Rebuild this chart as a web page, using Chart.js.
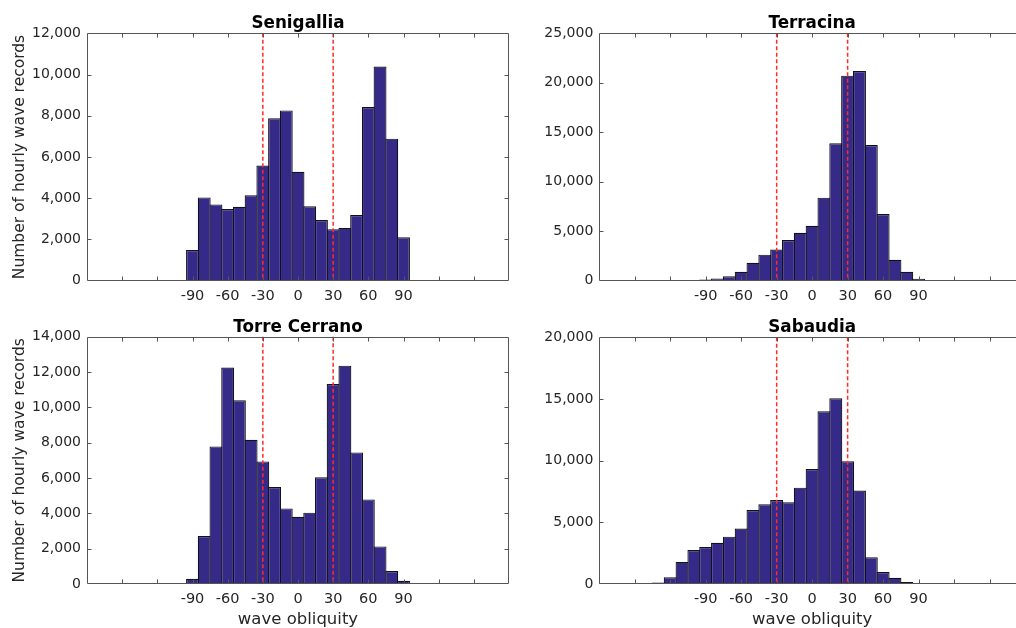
<!DOCTYPE html>
<html><head><meta charset="utf-8">
<script src="https://cdn.jsdelivr.net/npm/chart.js@4.4.0/dist/chart.umd.min.js"></script>
<style>
html,body{margin:0;padding:0;background:#fff;overflow:hidden;width:1016px;height:628px;}
canvas{position:absolute;}
</style></head><body>
<canvas id="cTL"></canvas><canvas id="cTR"></canvas><canvas id="cBL"></canvas><canvas id="cBR"></canvas>
<script>
// ---- data ----
const bins = [-180,-170,-160,-150,-140,-130,-120,-110,-100,-90,-80,-70,-60,-50,-40,-30,-20,-10,0,10,20,30,40,50,60,70,80,90];
const senigallia   = [0,0,0,0,0,0,0,0,0,1490,4040,3700,3480,3590,4150,5590,7880,8260,5280,3610,2940,2500,2560,3190,8420,10390,6890,2110];
const terracina    = [0,40,60,40,40,50,50,60,80,120,220,440,910,1820,2630,3150,4110,4850,5560,8390,13880,20720,21190,13710,6740,2120,910,200];
const torreCerrano = [0,0,0,0,0,0,0,0,0,300,2720,7790,12250,10400,8170,6940,5490,4280,3810,4040,6040,11320,12360,7450,4790,2130,740,180];
const sabaudia     = [90,30,30,40,40,120,540,1790,2760,3000,3350,3840,4490,6000,6460,6810,6620,7810,9320,14000,15050,9950,7570,2160,970,510,160,40];
const xTickLabels = [-90,-60,-30,0,30,60,90];
const refLines = [-30, 30];
const xRange = [-180, 180];
const xStep = 30;
const yMaxSenigallia = 12000, yStepSenigallia = 2000;
const yMaxTerracina = 25000, yStepTerracina = 5000;
const yMaxTorre = 14000, yStepTorre = 2000;
const yMaxSabaudia = 20000, yStepSabaudia = 5000;
const yTitle = 'Number of hourly wave records';
const xTitle = 'wave obliquity';

// ---- styles ----
const FONT = "'DejaVu Sans', sans-serif";
const BAR_FILL = '#352a87';
const BAR_EDGE = '#111118';
const AXIS = '#262626';
const BOX = '#555555';

const boxPlugin = {
  id: 'boxPlugin',
  afterDatasetsDraw(chart) {
    const {ctx, chartArea: a, scales: {x, y}} = chart;
    ctx.save();
    // reference lines
    ctx.strokeStyle = '#ff2a2a';
    ctx.lineWidth = 1.5;
    ctx.setLineDash([4, 2.5]);
    refLines.forEach(v => {
      const px = x.getPixelForValue(v);
      ctx.beginPath(); ctx.moveTo(px, a.top); ctx.lineTo(px, a.bottom); ctx.stroke();
    });
    ctx.setLineDash([]);
    ctx.lineWidth = 1;
    // box
    ctx.strokeStyle = BOX;
    const L = Math.round(a.left) + 0.5, R = Math.round(a.right) - 0.5, T = Math.round(a.top) + 0.5, B = Math.round(a.bottom) - 0.5;
    ctx.beginPath();
    ctx.moveTo(L, T); ctx.lineTo(R, T); ctx.lineTo(R, B); ctx.lineTo(L, B); ctx.closePath();
    ctx.stroke();
    // inward ticks
    const tl = 4;
    ctx.beginPath();
    x.ticks.forEach(t => {
      if (t.value <= xRange[0] || t.value >= xRange[1]) return;
      const px = Math.round(x.getPixelForValue(t.value)) + 0.5;
      ctx.moveTo(px, B); ctx.lineTo(px, B - tl);
      ctx.moveTo(px, T); ctx.lineTo(px, T + tl);
    });
    y.ticks.forEach(t => {
      if (t.value <= y.min || t.value >= y.max) return;
      const py = Math.round(y.getPixelForValue(t.value)) + 0.5;
      ctx.moveTo(L, py); ctx.lineTo(L + tl, py);
      ctx.moveTo(R, py); ctx.lineTo(R - tl, py);
    });
    ctx.stroke();
    ctx.restore();
  }
};

function makeChart(id, p) {
  const cv = document.getElementById(id);
  cv.width = p.w; cv.height = p.h;
  cv.style.left = p.left + 'px'; cv.style.top = p.top + 'px';
  cv.style.width = p.w + 'px'; cv.style.height = p.h + 'px';
  return new Chart(cv, {
    type: 'bar',
    data: {
      datasets: [{
        data: bins.map((b, i) => ({x: b, y: p.counts[i]})),
        backgroundColor: BAR_FILL,
        borderColor: BAR_EDGE,
        borderWidth: 1.2,
        barPercentage: 1.1,
        categoryPercentage: 1,
        clip: 0
      }]
    },
    options: {
      responsive: false,
      animation: false,
      devicePixelRatio: 1,
      layout: {padding: {left: 0, right: p.padRight, top: 0, bottom: 0}},
      plugins: {legend: {display: false}, tooltip: {enabled: false}, title: {display: false}},
      scales: {
        x: {
          type: 'linear', position: 'bottom', min: xRange[0], max: xRange[1], offset: false,
          grid: {display: false, drawTicks: false}, border: {display: false},
          ticks: {stepSize: xStep, autoSkip: false, maxRotation: 0, padding: 7,
                  font: {family: FONT, size: 14.5}, color: AXIS,
                  callback: v => xTickLabels.includes(v) ? String(v) : ''},
          title: {display: p.showX, text: xTitle, font: {family: FONT, size: 16.5}, color: AXIS, padding: {top: 0, bottom: 0}},
          afterFit(s) { s.height = p.xH; }
        },
        xTop: {
          type: 'linear', position: 'top', min: xRange[0], max: xRange[1], offset: false,
          grid: {display: false, drawTicks: false}, border: {display: false},
          ticks: {display: false},
          title: {display: true, text: p.title, font: {family: FONT, size: 16.8, weight: 'bold'}, color: '#000', padding: {top: p.titlePad, bottom: 0}},
          afterFit(s) { s.height = p.topH; }
        },
        y: {
          type: 'linear', min: 0, max: p.yMax,
          grid: {display: false, drawTicks: false}, border: {display: false},
          ticks: {stepSize: p.yStep, padding: 6, font: {family: FONT, size: 14}, color: AXIS,
                  callback: v => v.toLocaleString('en-US')},
          title: {display: p.showY, text: yTitle, font: {family: FONT, size: 15.5}, color: AXIS, padding: {top: 11, bottom: 0}},
          afterFit(s) { s.width = p.yWidth; }
        }
      }
    },
    plugins: [boxPlugin]
  });
}

makeChart('cTL', {left: 0, top: 0, w: 516, h: 314, padRight: 2.4, topH: 33.3, xH: 33.3, yWidth: 87, titlePad: 14,
  title: 'Senigallia', counts: senigallia, yMax: yMaxSenigallia, yStep: yStepSenigallia, showX: false, showY: true});
makeChart('cTR', {left: 520, top: 0, w: 512, h: 314, padRight: 5.1, topH: 33.3, xH: 33.3, yWidth: 79.3, titlePad: 14,
  title: 'Terracina', counts: terracina, yMax: yMaxTerracina, yStep: yStepTerracina, showX: false, showY: false});
makeChart('cBL', {left: 0, top: 300, w: 516, h: 330, padRight: 2.4, topH: 36.7, xH: 46, yWidth: 87, titlePad: 18,
  title: 'Torre Cerrano', counts: torreCerrano, yMax: yMaxTorre, yStep: yStepTorre, showX: true, showY: true});
makeChart('cBR', {left: 520, top: 300, w: 512, h: 330, padRight: 5.1, topH: 37.3, xH: 46, yWidth: 79.3, titlePad: 18,
  title: 'Sabaudia', counts: sabaudia, yMax: yMaxSabaudia, yStep: yStepSabaudia, showX: true, showY: false});
</script>
</body></html>
